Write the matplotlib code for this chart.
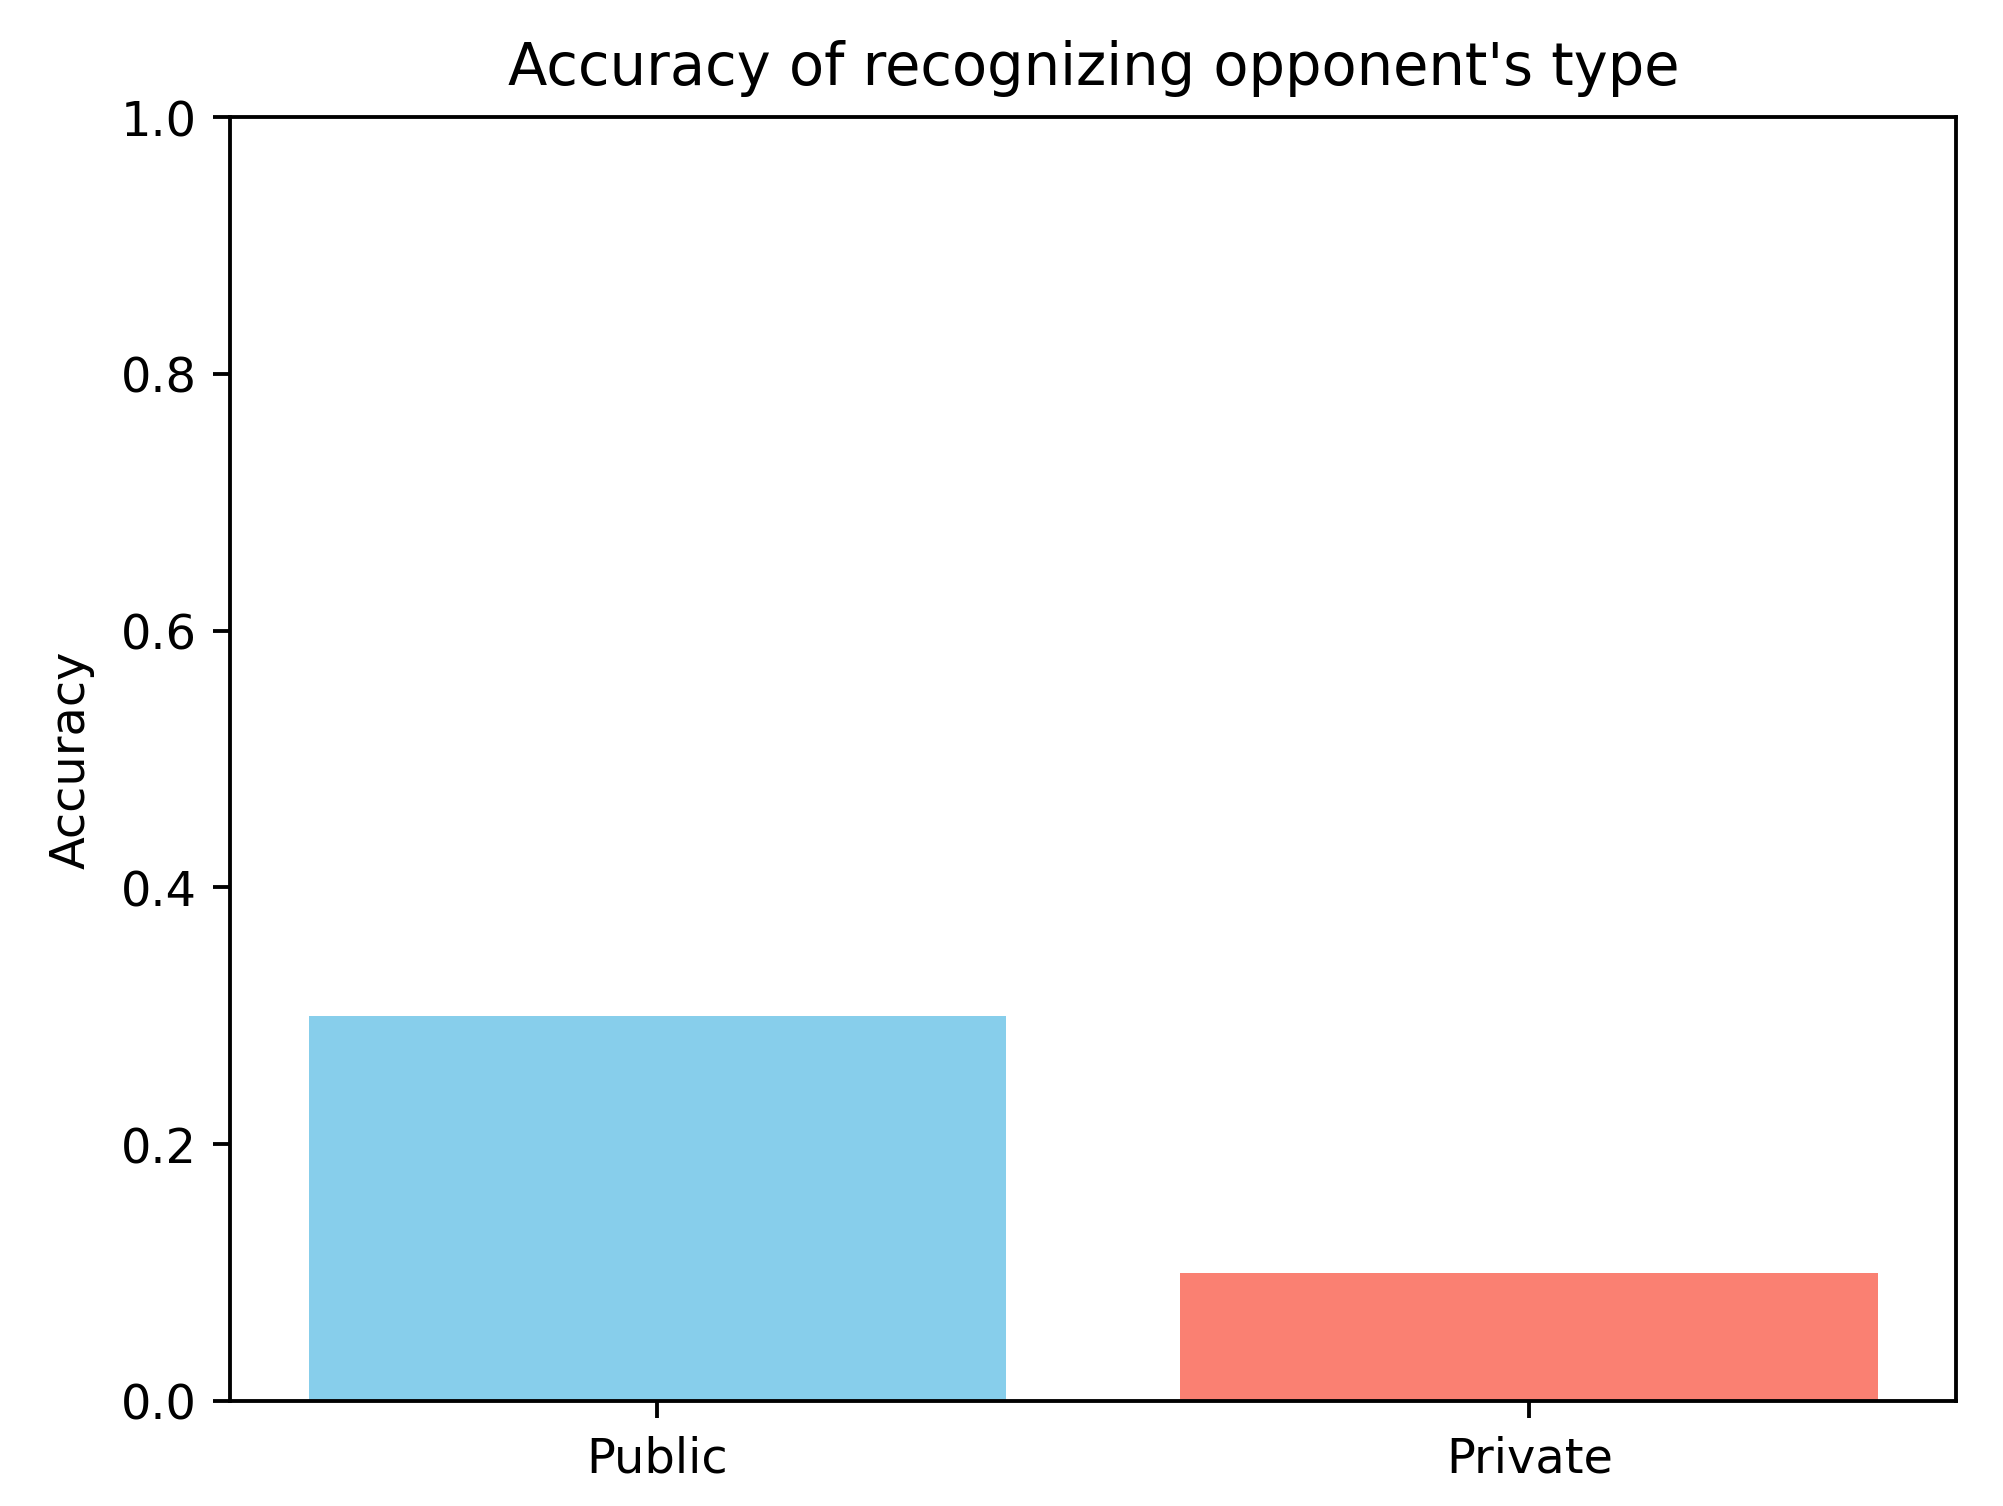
import matplotlib
matplotlib.use("Agg")
import matplotlib.pyplot as plt

categories = ["Public", "Private"]
accuracy = [0.3, 0.1]
colors = ["skyblue", "salmon"]

W, H, DPI = 2003, 1506, 345
fig = plt.figure(figsize=((W + 0.5) / DPI, (H + 0.5) / DPI), dpi=DPI)
ax = fig.add_axes([230 / W, 1 - 1401 / H, (1956 - 230) / W, (1401 - 117.5) / H])
ax.bar(categories, accuracy, color=colors)
ax.set_ylim(0, 1)
ax.set_ylabel("Accuracy", labelpad=5.3)
ax.set_title("Accuracy of recognizing opponent's type", pad=6.8)
fig.savefig("out.png", dpi=DPI)
